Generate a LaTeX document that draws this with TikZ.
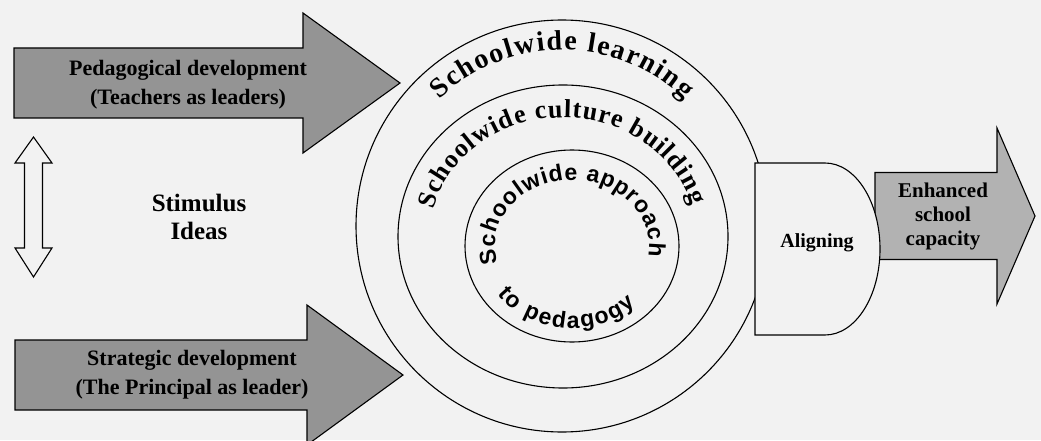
\documentclass[tikz,border=0pt]{standalone}
\usepackage{fontspec}
\setmainfont{Liberation Serif}
\newfontfamily\ringsans{Liberation Sans}
\usepackage{tikz}
\usetikzlibrary{decorations.text}

\definecolor{paper}{gray}{0.95}
\definecolor{darkfill}{gray}{0.58}
\definecolor{lightfill}{gray}{0.70}

\newcommand{\serifring}{\fontsize{28}{30}\selectfont\bfseries}
\newcommand{\serifringsmall}{\fontsize{26}{28}\selectfont\bfseries}
\newcommand{\sansring}{\fontsize{23}{25}\selectfont\ringsans\bfseries}

\begin{document}
\begin{tikzpicture}[
    x=1pt, y=1pt,
    outline/.style={draw, line width=1.1pt},
    blockarrow/.style={outline, fill=darkfill},
    lbl/.style={font=\fontsize{22}{29}\selectfont\bfseries, align=center},
    ringtext/.style={decorate,
                     decoration={text along path, text align={fit to path},
                                 text={#1}}}
  ]
  \useasboundingbox[fill=paper] (0,0) rectangle (1041,440);

  % the three rings
  \coordinate (outerc) at (562,214);
  \coordinate (middlec) at (563,203.5);
  \coordinate (innerc) at (572,194);
  \draw[outline] (outerc) circle[radius=206];
  \draw[outline] (middlec) ellipse[x radius=165, y radius=151.5];
  \draw[outline] (innerc) ellipse[x radius=107, y radius=96];

  \path[ringtext={|\serifring|Schoolwide learning}]
    (outerc) ++(134:176) arc[start angle=134, end angle=46, radius=176];
  \path[ringtext={|\serifringsmall|Schoolwide culture building}]
    (middlec) ++(167:133 and 119) arc[start angle=167, end angle=15, x radius=133, y radius=119];
  \path[ringtext={|\sansring|Schoolwide approach}]
    (innerc) ++(195:77 and 66) arc[start angle=195, end angle=-9, x radius=77, y radius=66];
  \path[ringtext={|\sansring|to pedagogy}]
    (innerc) ++(216:92 and 82) arc[start angle=216, end angle=314, x radius=92, y radius=82];

  % development arrows on the left
  \draw[blockarrow] (14,392) -- (303,392) -- (303,427) -- (400,357)
    -- (303,287) -- (303,322) -- (14,322) -- cycle;
  \node[lbl] (pedag) at (188,355) {Pedagogical development\\(Teachers as leaders)};

  \draw[blockarrow] (15,100) -- (307,100) -- (307,135) -- (403,65)
    -- (307,-5) -- (307,30) -- (15,30) -- cycle;
  \node[lbl] (strat) at (192,65) {Strategic development\\(The Principal as leader)};

  % two-way arrow between them
  \draw[outline, fill=paper] (33.5,303) -- (52,277) -- (42.5,277) -- (42.5,192)
    -- (52,192) -- (33.5,163) -- (15,192) -- (24.5,192) -- (24.5,277)
    -- (15,277) -- cycle;
  \node[font=\fontsize{25}{28}\selectfont\bfseries, align=center] (stim)
    at (199,223) {Stimulus\\Ideas};

  % outcome arrow, partly hidden by the aligning block
  \draw[blockarrow, fill=lightfill] (875,267.5) -- (997,267.5) -- (997,312)
    -- (1035,224) -- (997,136) -- (997,180.5) -- (875,180.5) -- cycle;
  \node[font=\fontsize{21}{24}\selectfont\bfseries, align=center] (capacity)
    at (943,224) {Enhanced\\school\\capacity};

  \draw[outline, fill=paper] (825,277) -- (755,277) -- (755,105) -- (825,105)
    arc[start angle=-90, end angle=90, x radius=55, y radius=86] -- cycle;
  \node[font=\fontsize{20}{22}\selectfont\bfseries] (aligning) at (817,197) {Aligning};
\end{tikzpicture}
\end{document}
